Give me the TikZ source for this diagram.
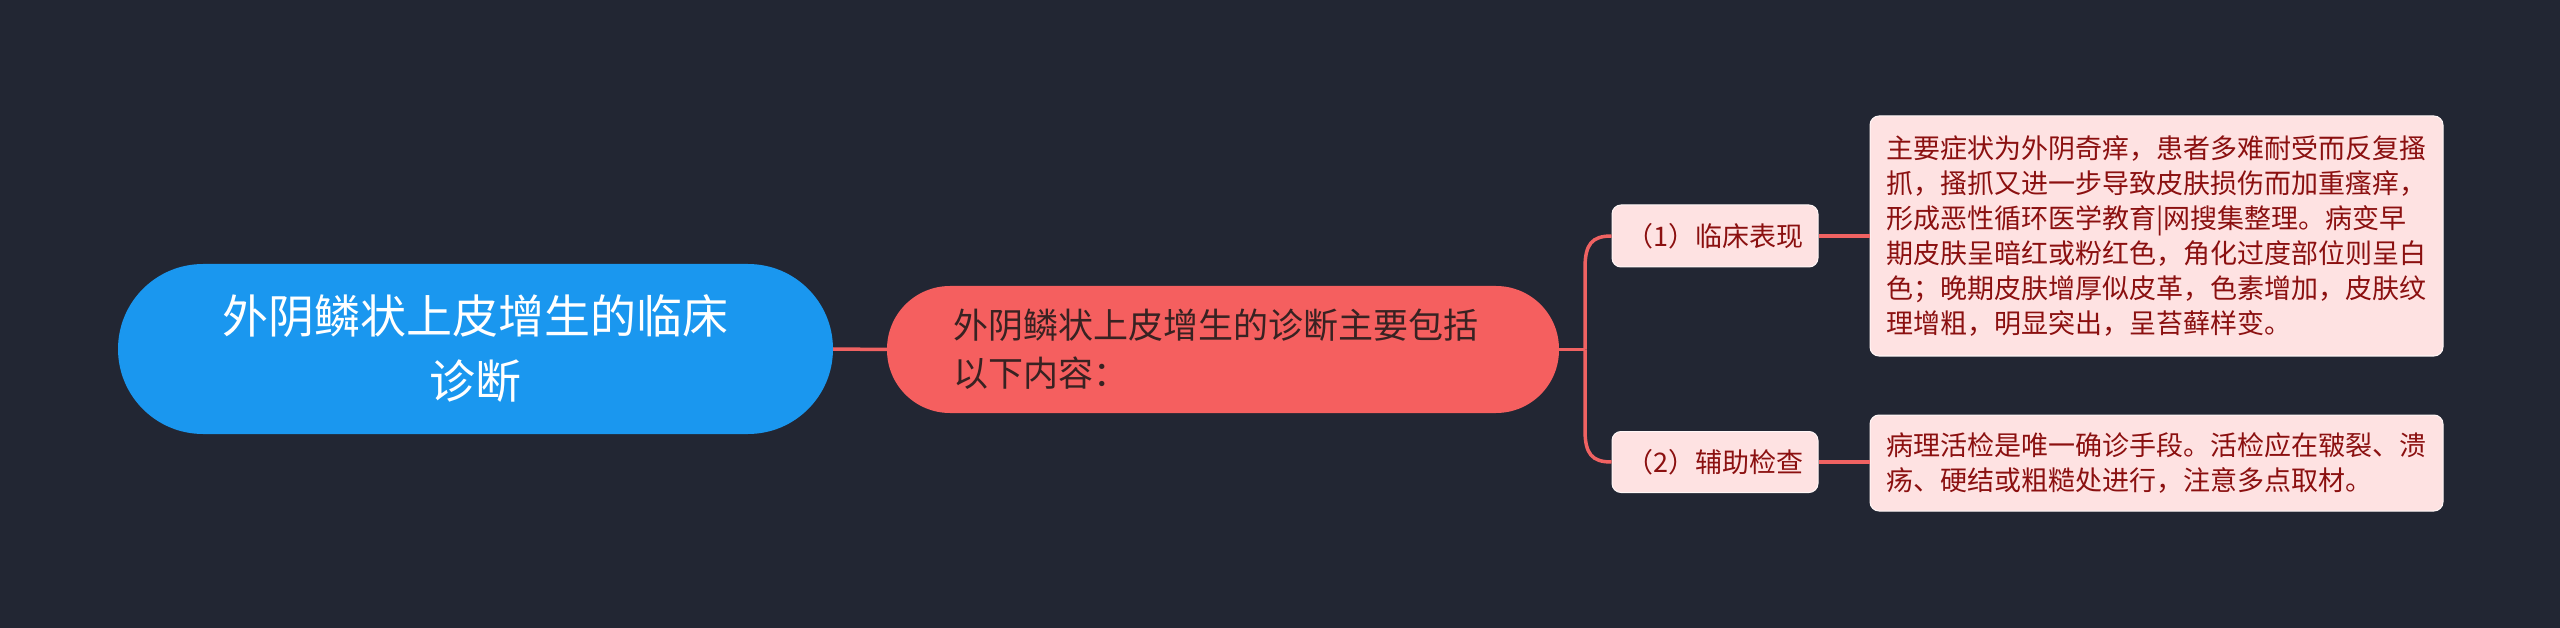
\documentclass[tikz,border=0pt]{standalone}
\usepackage{fontspec}
\setmainfont{Noto Sans CJK SC}
\definecolor{bg}{RGB}{34,38,51}
\definecolor{rootblue}{RGB}{26,151,239}
\definecolor{mainred}{RGB}{245,95,95}
\definecolor{conn}{RGB}{240,98,98}
\definecolor{pinkfill}{RGB}{254,226,226}
\definecolor{boxtext}{RGB}{139,16,16}
\definecolor{redtext}{RGB}{56,34,34}
\tikzset{
  rootnode/.style={fill=rootblue, text=white, rounded corners=85pt, inner sep=0pt, align=center,
    font=\fontsize{46}{65}\selectfont},
  mainnode/.style={fill=mainred, text=redtext, rounded corners=63pt, inner sep=0pt,
    font=\fontsize{35}{48}\selectfont},
  subnode/.style={fill=pinkfill, draw=white!70!pinkfill, line width=1pt, text=boxtext, rounded corners=9pt,
    inner sep=0pt, font=\fontsize{27}{35}\selectfont},
  leafnode/.style={fill=pinkfill, draw=white!70!pinkfill, line width=1pt, text=boxtext, rounded corners=9pt,
    inner sep=0pt, align=left, font=\fontsize{27}{35}\selectfont},
  connline/.style={draw=conn, line width=3.5pt}
}
\begin{document}
\begin{tikzpicture}[x=1pt,y=-1pt]
\fill[bg] (0,0) rectangle (2560,628);
\useasboundingbox (0,0) rectangle (2560,628);

\node[rootnode, minimum width=715, minimum height=170] (root) at (475.5,349)
  {外阴鳞状上皮增生的临床\\诊断};
\node[mainnode, minimum width=672, minimum height=127, text width=540, align=left] (main) at (1223,349.5)
  {外阴鳞状上皮增生的诊断主要包括\\以下内容：};
\node[subnode, minimum width=206, minimum height=62] (n1) at (1715,236) {（1）临床表现};
\node[subnode, minimum width=206, minimum height=61] (n2) at (1715,462) {（2）辅助检查};
\node[leafnode, minimum width=573, minimum height=240] (b1) at (2156.5,236)
  {主要症状为外阴奇痒，患者多难耐受而反复搔\\
   抓，搔抓又进一步导致皮肤损伤而加重瘙痒，\\
   形成恶性循环医学教育|网搜集整理。病变早\\
   期皮肤呈暗红或粉红色，角化过度部位则呈白\\
   色；晚期皮肤增厚似皮革，色素增加，皮肤纹\\
   理增粗，明显突出，呈苔藓样变。};
\node[leafnode, minimum width=573, minimum height=96] (b2) at (2156.5,463)
  {病理活检是唯一确诊手段。活检应在皲裂、溃\\
   疡、硬结或粗糙处进行，注意多点取材。};

\coordinate (j) at (1585,349.5);
\begin{scope}[on background layer/.style={}]
\draw[connline] (root.east) -- (main.west);
\draw[connline] (main.east) -- (j);
\draw[connline] (j) -- (1585,268) .. controls (1585,244) and (1592,236) .. (n1.west);
\draw[connline] (j) -- (1585,430) .. controls (1585,454) and (1592,462) .. (n2.west);
\draw[connline] (n1.east) -- (b1.west);
\draw[connline] (n2.east) -- (b2.west |- n2.east);
\end{scope}
\end{tikzpicture}
\end{document}
